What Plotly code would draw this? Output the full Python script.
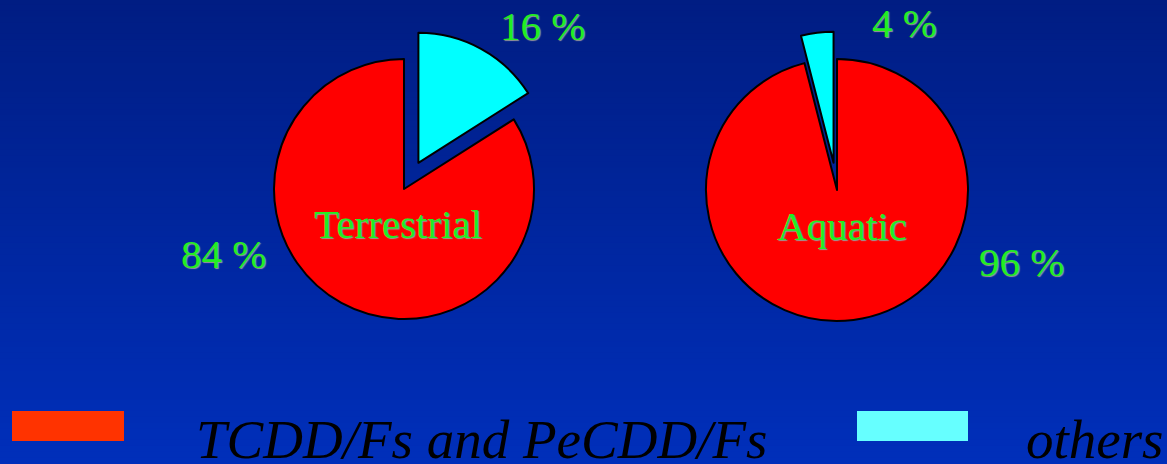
import plotly.graph_objects as go

# Share of TCDD/Fs + PeCDD/Fs versus other congeners, per ecosystem
ecosystems = ["Terrestrial", "Aquatic"]
groups = ["others", "TCDD/Fs and PeCDD/Fs"]
terrestrial_pct = [16, 84]
aquatic_pct = [4, 96]

W, H = 1167, 464
slice_colors = {"others": "#00ffff", "TCDD/Fs and PeCDD/Fs": "#ff0000"}
legend_colors = {"others": "#66ffff", "TCDD/Fs and PeCDD/Fs": "#ff3300"}
label_green = "#22ee22"
serif = "Liberation Serif"


def px_x(v):
    return v / W


def px_y(v):
    return 1 - v / H


def domain(cx, cy, half):
    return dict(x=[px_x(cx - half), px_x(cx + half)],
                y=[px_y(cy + half), px_y(cy - half)])


fig = go.Figure()

# terrestrial: "others" slice sits clockwise right of 12 o'clock
fig.add_trace(go.Pie(
    labels=groups, values=terrestrial_pct, sort=False,
    direction="clockwise", rotation=0, pull=[0.23, 0],
    marker=dict(colors=[slice_colors[g] for g in groups],
                line=dict(color="black", width=2)),
    textinfo="none", hoverinfo="label+percent", showlegend=False,
    domain=domain(404, 189, 130 * 1.23),
))

# aquatic: "others" slice sits just left of 12 o'clock
aq_labels = groups[::-1]
aq_values = aquatic_pct[::-1]
fig.add_trace(go.Pie(
    labels=aq_labels, values=aq_values, sort=False,
    direction="clockwise", rotation=0, pull=[0, 0.21],
    marker=dict(colors=[slice_colors[g] for g in aq_labels],
                line=dict(color="black", width=2)),
    textinfo="none", hoverinfo="label+percent", showlegend=False,
    domain=domain(837, 190, 131 * 1.21),
))

# vertical blue gradient behind everything
shapes = []
top, bottom = (0, 29, 131), (0, 47, 186)
bands = 80
for i in range(bands):
    t = i / (bands - 1)
    c = tuple(round(a + (b - a) * t) for a, b in zip(top, bottom))
    shapes.append(dict(
        type="rect", xref="paper", yref="paper", layer="below",
        x0=0, x1=1, y0=1 - (i + 1) / bands, y1=1 - i / bands + 0.002,
        fillcolor="rgb(%d,%d,%d)" % c, line=dict(width=0),
    ))

# legend swatches
for g, (x0, x1) in zip(groups, [(857, 968), (12, 124)]):
    shapes.append(dict(
        type="rect", xref="paper", yref="paper",
        x0=px_x(x0), x1=px_x(x1), y0=px_y(441), y1=px_y(411),
        fillcolor=legend_colors[g], line=dict(width=0),
    ))

label_font = dict(family=serif, size=41, color=label_green,
                  shadow="1px 1px 1px #9a9a9a")
annotations = []


def note(text, x, y, font, xanchor="center"):
    annotations.append(dict(
        text=text, x=px_x(x), y=px_y(y), xref="paper", yref="paper",
        xanchor=xanchor, yanchor="middle", showarrow=False, font=font,
    ))


note(f"{terrestrial_pct[0]} %", 542, 26, label_font)
note(f"{terrestrial_pct[1]} %", 223, 254, label_font)
note(f"{aquatic_pct[0]} %", 904, 23, label_font)
note(f"{aquatic_pct[1]} %", 1021, 262, label_font)
note(ecosystems[0], 398, 224, label_font)
note(ecosystems[1], 842, 226, label_font)

legend_font = dict(family=serif, size=55, color="black", style="italic")
note(groups[1], 194, 439, legend_font, xanchor="left")
note(groups[0], 1024, 439, legend_font, xanchor="left")

fig.update_layout(
    width=W, height=H,
    margin=dict(l=0, r=0, t=0, b=0),
    paper_bgcolor="#00228f", plot_bgcolor="rgba(0,0,0,0)",
    shapes=shapes, annotations=annotations,
)

fig.write_html("out.html")
